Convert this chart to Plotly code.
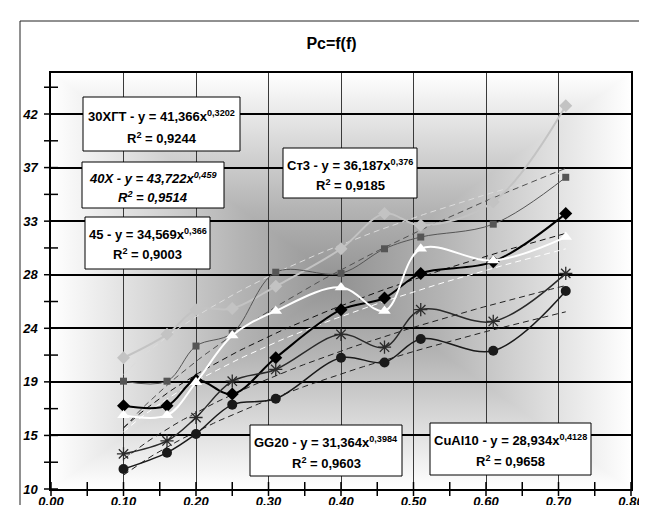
import base64
import numpy as np
import plotly.graph_objects as go

# ---------------- data ----------------
f_vals = [0.10, 0.16, 0.20, 0.25, 0.31, 0.40, 0.46, 0.51, 0.61, 0.71]

pc_30hgt = [21.2, 23.2, 25.3, 25.4, 27.3, 30.5, 33.5, 32.5, 34.5, 42.7]
pc_40h = [19.2, 19.2, 22.2, 23.3, 28.5, 28.4, 30.5, 31.5, 32.6, 36.6]
pc_45 = [16.3, 16.3, 19.1, 23.1, 25.2, 27.2, 25.2, 30.5, 29.5, 31.5]
pc_st3 = [17.1, 17.1, 19.3, 18.1, 21.2, 25.3, 26.3, 28.4, 29.4, 33.5]
pc_gg20 = [13.0, 14.1, 16.1, 19.2, 20.2, 23.2, 22.1, 25.3, 24.3, 28.4]
pc_cual10 = [11.7, 13.1, 14.7, 17.2, 17.7, 21.2, 20.8, 22.8, 21.8, 26.9]

materials = ["30ХГТ", "40Х", "45", "Ст3", "GG20", "CuAl10"]
trend_a = [41.366, 43.722, 34.569, 36.187, 31.364, 28.934]
trend_b = [0.3202, 0.459, 0.366, 0.376, 0.3984, 0.4128]
trend_r2 = [0.9244, 0.9514, 0.9003, 0.9185, 0.9603, 0.9658]

series_y = [pc_30hgt, pc_40h, pc_45, pc_st3, pc_gg20, pc_cual10]

# ---------------- layout helpers ----------------
W, H = 647, 505
L, R, T, B = 43, 24, 65, 24
PW, PH = W - L - R, H - T - B


def px(x):
    return (x - L) / PW


def py(y):
    return (H - B - y) / PH


FONT = "Liberation Sans, Arial, sans-serif"

styles = [
    dict(color="#c3c3c3", lw=2.0, sym="diamond", size=10, tcolor="#dcdcdc"),
    dict(color="#555555", lw=1.0, sym="square", size=7, tcolor="#505050"),
    dict(color="#ffffff", lw=2.0, sym="triangle-up", size=11, tcolor="#ffffff"),
    dict(color="#000000", lw=2.0, sym="diamond", size=10, tcolor="#111111"),
    dict(color="#2a2a2a", lw=1.5, sym="asterisk-open", size=11, tcolor="#222222"),
    dict(color="#1a1a1a", lw=1.5, sym="circle", size=10, tcolor="#222222"),
]

fig = go.Figure()

# trendlines from displayed power equations
xt = np.linspace(min(f_vals), max(f_vals), 60)
for i in range(len(materials)):
    yt = trend_a[i] * xt ** trend_b[i]
    fig.add_trace(go.Scatter(
        x=xt, y=yt, mode="lines", hoverinfo="skip",
        line=dict(color=styles[i]["tcolor"], width=1, dash="6px,4px"),
        showlegend=False))

# data series (white triangles drawn last)
order = [0, 1, 3, 4, 5, 2]
for i in order:
    s = styles[i]
    mk = dict(symbol=s["sym"], size=s["size"], color=s["color"])
    if s["sym"] == "asterisk-open":
        mk["line"] = dict(color=s["color"], width=1.3)
    else:
        mk["line"] = dict(color=s["color"], width=0)
    fig.add_trace(go.Scatter(
        x=f_vals, y=series_y[i], mode="lines+markers", name=materials[i],
        line=dict(color=s["color"], width=s["lw"], shape="spline", smoothing=1),
        marker=mk, showlegend=False))

# cross tick marks on axes
Y0, Y1 = 10, 45.5
ystep = 32 / 7
ytick_pos = np.arange(Y0, Y1, ystep / 2)
xtick_pos = np.arange(0, 0.8001, 0.05)
fig.add_trace(go.Scatter(
    x=np.zeros_like(ytick_pos), y=ytick_pos, mode="markers", cliponaxis=False,
    hoverinfo="skip", showlegend=False,
    marker=dict(symbol="line-ew", size=10, line=dict(color="black", width=1.5))))
fig.add_trace(go.Scatter(
    x=xtick_pos, y=np.full_like(xtick_pos, Y0), mode="markers", cliponaxis=False,
    hoverinfo="skip", showlegend=False,
    marker=dict(symbol="line-ns", size=10, line=dict(color="black", width=1.5))))

# background: rectangular "from center" gradient as inline svg
cx, cy = PW / 2, PH / 2
c_in, c_mid, c_out = "#939393", "#b4b4b4", "#ffffff"


def grad(gid, x2, y2):
    return (f'<linearGradient id="{gid}" gradientUnits="userSpaceOnUse" x1="{cx}" y1="{cy}" '
            f'x2="{x2}" y2="{y2}"><stop offset="0" stop-color="{c_in}"/>'
            f'<stop offset="0.35" stop-color="{c_mid}"/>'
            f'<stop offset="1" stop-color="{c_out}"/></linearGradient>')


def poly(pts, gid):
    return (f'<polygon points="{pts}" fill="url(#{gid})" stroke="url(#{gid})" '
            f'stroke-width="1.5" stroke-linejoin="round"/>')


svg = (f'<svg xmlns="http://www.w3.org/2000/svg" width="{PW}" height="{PH}" '
       f'viewBox="0 0 {PW} {PH}" preserveAspectRatio="none"><defs>'
       + grad("gt", cx, 0) + grad("gb", cx, PH) + grad("gl", 0, cy) + grad("gr", PW, cy)
       + '</defs>'
       + poly(f"0,0 {PW},0 {cx},{cy}", "gt")
       + poly(f"0,{PH} {PW},{PH} {cx},{cy}", "gb")
       + poly(f"0,0 0,{PH} {cx},{cy}", "gl")
       + poly(f"{PW},0 {PW},{PH} {cx},{cy}", "gr")
       + '</svg>')
src = "data:image/svg+xml;base64," + base64.b64encode(svg.encode()).decode()

shapes = []
annotations = []

# trend equation boxes: (left, top, right, bottom, line1 y, line2 y) in px
box_pos = [
    (75, 89, 232, 143, 108, 130),
    (74, 154, 216, 200, 170, 189),
    (77, 209, 202, 261, 226, 246),
    (275, 140, 409, 190, 157, 177),
    (242, 417, 394, 468, 434, 455),
    (422, 415, 583, 467, 432, 453),
]
for i, (x0, y0, x1, y1, l1, l2) in enumerate(box_pos):
    shapes.append(dict(type="rect", xref="paper", yref="paper",
                       x0=px(x0), x1=px(x1), y0=py(y1), y1=py(y0),
                       fillcolor="white", line=dict(color="black", width=1),
                       layer="above"))
    a = str(trend_a[i]).replace(".", ",")
    b = str(trend_b[i]).replace(".", ",")
    r2 = str(trend_r2[i]).replace(".", ",")
    t1 = f"<b>{materials[i]} - y = {a}x<sup>{b}</sup></b>"
    t2 = f"<b>R<sup>2</sup> = {r2}</b>"
    if i == 1:
        t1 = f"<i>{t1}</i>"
        t2 = f"<i>{t2}</i>"
    xc = px((x0 + x1) / 2)
    for t, yy in ((t1, l1), (t2, l2)):
        annotations.append(dict(text=t, xref="paper", yref="paper", x=xc, y=py(yy),
                                xanchor="center", yanchor="middle", showarrow=False,
                                font=dict(family=FONT, size=13, color="black")))

# outer chart border with shadow
shapes.append(dict(type="rect", xref="paper", yref="paper",
                   x0=px(12), x1=px(638), y0=py(530), y1=py(13),
                   line=dict(color="#222222", width=1), fillcolor="rgba(0,0,0,0)",
                   layer="below"))
shapes.append(dict(type="rect", xref="paper", yref="paper",
                   x0=px(638), x1=px(643), y0=py(530), y1=py(17),
                   line=dict(width=0), fillcolor="black", layer="below"))

tfont = dict(family=FONT, size=13, color="black", weight="bold", style="italic")
fig.update_layout(
    width=W, height=H,
    margin=dict(l=L, r=R, t=T, b=B, autoexpand=False),
    paper_bgcolor="white", plot_bgcolor="rgba(0,0,0,0)",
    font=dict(family=FONT, size=12, color="black"),
    title=dict(text="<b>Pc=f(f)</b>", x=0.5, xanchor="center", y=1 - 35 / H,
               yanchor="middle", font=dict(family=FONT, size=16, color="black")),
    images=[dict(source=src, xref="paper", yref="paper", x=0, y=1, sizex=1, sizey=1,
                 xanchor="left", yanchor="top", sizing="stretch", layer="below")],
    shapes=shapes, annotations=annotations,
    xaxis=dict(range=[0, 0.8], tick0=0, dtick=0.1, tickformat=".2f",
               showgrid=True, gridcolor="#3a3a3a", gridwidth=1, zeroline=False,
               showline=True, linecolor="black", linewidth=1.5, mirror=True,
               ticks="", ticklen=0, ticklabelstandoff=0, tickfont=tfont),
    yaxis=dict(range=[Y0, Y1], tick0=Y0, dtick=ystep, tickformat=".0f",
               showgrid=True, gridcolor="black", gridwidth=1.5, zeroline=False,
               showline=True, linecolor="black", linewidth=1.5, mirror=True,
               ticks="", ticklen=0, ticklabelstandoff=9, tickfont=tfont),
)

fig.write_html("out.html")
